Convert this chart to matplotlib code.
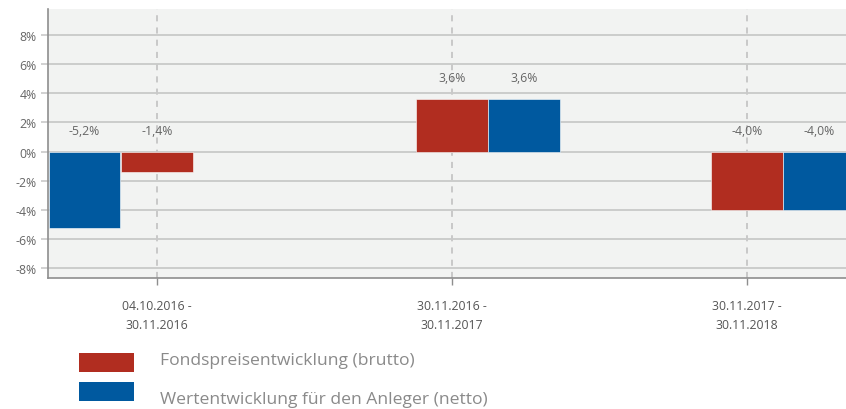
import matplotlib.pyplot as plt
import numpy as np
from matplotlib.patches import Rectangle

plt.rcParams["font.family"] = ["Open Sans", "DejaVu Sans"]

periods = ["04.10.2016 -\n30.11.2016", "30.11.2016 -\n30.11.2017", "30.11.2017 -\n30.11.2018"]
brutto = [-1.4, 3.6, -4.0]
netto = [-5.2, 3.6, -4.0]
series_names = ["Fondspreisentwicklung (brutto)", "Wertentwicklung für den Anleger (netto)"]
y_ticks = [-8, -6, -4, -2, 0, 2, 4, 6, 8]

RED = "#B12D20"
BLUE = "#00599F"
BG = "#F2F3F2"
GRID = "#C9CAC9"
TXT = "#666666"

# the source places the first blue bar left of the red one, the others to the right
netto_side = [-1, 1, 1]
width = 0.242
step = 0.245


def fmt(v):
    return f"{v:.1f}%".replace(".", ",")


fig = plt.figure(figsize=(8.46, 4.10), dpi=100)
ax = fig.add_axes([48 / 846, 1 - 279 / 410, 1 - 48 / 846, (279 - 9.5) / 410])
ax.set_facecolor(BG)

x = np.arange(len(periods))
for i, (b, n) in enumerate(zip(brutto, netto)):
    xn = x[i] + netto_side[i] * step
    ax.bar(x[i], b, width=width, color=RED, edgecolor="white", linewidth=0.4, zorder=3)
    ax.bar(xn, n, width=width, color=BLUE, edgecolor="white", linewidth=0.4, zorder=3)
    for xx, v in ((x[i], b), (xn, n)):
        ax.annotate(fmt(v), (xx, max(v, 0)), xytext=(0, 21), textcoords="offset pixels",
                    ha="center", va="center", fontsize=8.8, color=TXT, zorder=4)

ax.set_xlim(-0.369, 2.336)
ax.set_ylim(-8.65, 9.78)
ax.set_yticks(y_ticks)
ax.set_yticklabels([f"{t}%" for t in y_ticks])
ax.set_xticks(x)
ax.set_xticklabels(periods, linespacing=1.6)

ax.grid(axis="y", color=GRID, linewidth=1.3, zorder=1)
for xi in x:
    ax.axvline(xi, color="#BDBDBD", linewidth=1.1, linestyle=(0, (4, 4)), zorder=1)

for s in ("top", "right"):
    ax.spines[s].set_visible(False)
for s in ("left", "bottom"):
    ax.spines[s].set_color("#8E8E8E")
    ax.spines[s].set_linewidth(1.2)
ax.tick_params(axis="y", length=5, width=1.2, color=GRID, labelsize=8.8, labelcolor=TXT, pad=3)
ax.tick_params(axis="x", length=5, width=1.0, color="#8E8E8E", labelsize=8.8, labelcolor="#555555", pad=10)

# legend drawn below the chart
for k, (name, col) in enumerate(zip(series_names, [RED, BLUE])):
    y0 = 1 - (373 + k * 29) / 410
    fig.patches.append(Rectangle((79 / 846, y0), 55 / 846, 19 / 410, transform=fig.transFigure,
                                 facecolor=col, edgecolor="none"))
    fig.text(160 / 846, 1 - (361 + k * 39) / 410, name, fontsize=12.6, color="#8A8A8A",
             va="center", ha="left")

fig.savefig("out.png", dpi=100)
